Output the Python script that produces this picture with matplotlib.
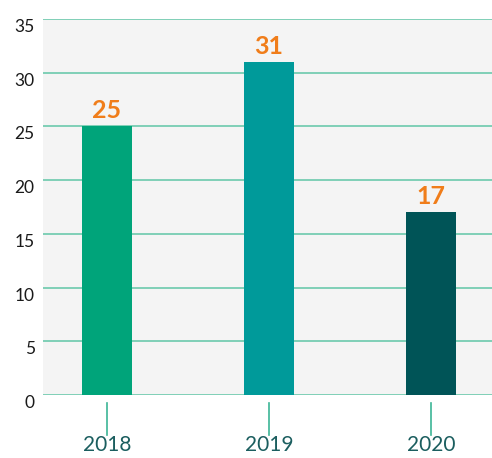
import matplotlib.pyplot as plt

# yearly counts
years = ["2018", "2019", "2020"]
counts = [25, 31, 17]
bar_colors = ["#00a47a", "#009a9a", "#005457"]
yticks = [0, 5, 10, 15, 20, 25, 30, 35]

plt.rcParams['font.family'] = ['Lato', 'DejaVu Sans']

fig = plt.figure(figsize=(4.92, 4.58), dpi=100)
ax = fig.add_axes([43 / 492, 63 / 458, 449 / 492, 376 / 458])
ax.set_facecolor("#f4f4f4")

x = list(range(len(years)))
ax.bar(x, counts, width=0.31, color=bar_colors, zorder=3)

# value labels above the bars
for xi, v in zip(x, counts):
    ax.annotate(str(v), xy=(xi, v), xytext=(0, 6), textcoords="offset points",
                ha="center", va="baseline", fontsize=18, fontweight="bold",
                color="#f07d1a", zorder=4)

ax.set_xlim(-0.395, 2.377)
ax.set_ylim(0, 35)
ax.set_yticks(yticks)
ax.set_yticklabels([str(t) for t in yticks])
ax.grid(axis="y", color="#6cc9ad", linewidth=1.2, zorder=1)
ax.set_axisbelow(True)

for s in ax.spines.values():
    s.set_visible(False)

ax.tick_params(axis="y", length=0, pad=6, labelsize=12.5, labelcolor="#1a1a1a")
for lab in ax.get_yticklabels():
    lab.set_verticalalignment("top")

ax.set_xticks(x)
ax.set_xticklabels(years)
ax.tick_params(axis="x", length=0, pad=29, labelsize=15, labelcolor="#1b5e5f")

# little drop lines under each year
tr = ax.get_xaxis_transform()
for xi in x:
    ax.plot([xi, xi], [-8 / 376, -40 / 376], transform=tr, color="#3cb596",
            linewidth=1.2, clip_on=False)

fig.savefig("out.png", dpi=100)
